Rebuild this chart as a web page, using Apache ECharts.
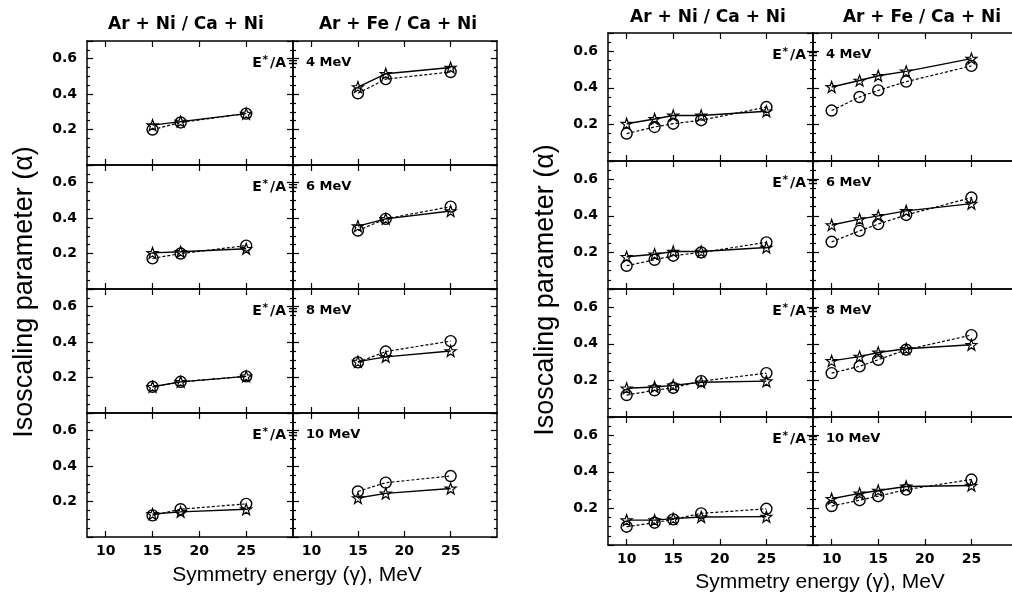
<!DOCTYPE html>
<html>
<head>
<meta charset="utf-8">
<script src="https://cdn.jsdelivr.net/npm/echarts@6/dist/echarts.min.js"></script>
<style>
  html, body { margin: 0; padding: 0; background: #fff; }
  #chart { width: 1012px; height: 595px; }
</style>
</head>
<body>
<div id="chart"></div>
<script>
// data
const systems = ['Ar + Ni / Ca + Ni', 'Ar + Fe / Ca + Ni'];
const excitation = ['4', '6', '8', '10'];
const xTicks = [10, 15, 20, 25];

// left figure: 3 symmetry energies
const energyLeft = [15, 18, 25];
const leftNiCircle = [[0.20, 0.24, 0.29], [0.173, 0.20, 0.245], [0.148, 0.176, 0.207], [0.122, 0.157, 0.187]];
const leftNiStar = [[0.225, 0.245, 0.29], [0.204, 0.21, 0.227], [0.148, 0.176, 0.207], [0.13, 0.142, 0.157]];
const leftFeCircle = [[0.405, 0.485, 0.525], [0.33, 0.396, 0.465], [0.286, 0.347, 0.406], [0.257, 0.307, 0.344]];
const leftFeStar = [[0.44, 0.515, 0.55], [0.355, 0.396, 0.44], [0.29, 0.317, 0.35], [0.22, 0.246, 0.274]];

// right figure: 5 symmetry energies
const energyRight = [10, 13, 15, 18, 25];
const rightNiCircle = [[0.15, 0.186, 0.204, 0.223, 0.295], [0.127, 0.16, 0.182, 0.2, 0.255], [0.12, 0.146, 0.16, 0.196, 0.24], [0.1, 0.122, 0.14, 0.173, 0.198]];
const rightNiStar = [[0.204, 0.23, 0.249, 0.249, 0.272], [0.176, 0.19, 0.205, 0.205, 0.227], [0.157, 0.164, 0.173, 0.19, 0.196], [0.136, 0.136, 0.144, 0.153, 0.155]];
const rightFeCircle = [[0.276, 0.35, 0.386, 0.434, 0.52], [0.258, 0.318, 0.355, 0.405, 0.5], [0.24, 0.277, 0.313, 0.368, 0.448], [0.213, 0.245, 0.267, 0.303, 0.358]];
const rightFeStar = [[0.405, 0.44, 0.466, 0.49, 0.56], [0.35, 0.382, 0.4, 0.427, 0.467], [0.307, 0.33, 0.353, 0.373, 0.395], [0.253, 0.282, 0.298, 0.32, 0.325]];

const STAR = 'path://M0,-10L2.35,-3.24L9.51,-3.09L3.8,1.24L5.88,8.09L0,4L-5.88,8.09L-3.8,1.24L-9.51,-3.09L-2.35,-3.24Z';
const FONT = 'Liberation Sans';
const BFONT = 'DejaVu Sans';

const figures = [
  {
    energy: energyLeft,
    circles: [leftNiCircle, leftFeCircle],
    stars: [leftNiStar, leftFeStar],
    colLeft: [87, 293], colWidth: [206, 204],
    rowTop: [41, 165, 289, 413], rowHeight: 124,
    titleY: 25, titleX: [186, 398],
    yNameX: 25, yNameY: 292,
    xNameX: 297, xNameY: 575
  },
  {
    energy: energyRight,
    circles: [rightNiCircle, rightFeCircle],
    stars: [rightNiStar, rightFeStar],
    colLeft: [608, 813], colWidth: [205, 205],
    rowTop: [33, 161, 289, 417], rowHeight: 128,
    titleY: 18, titleX: [708, 922],
    yNameX: 546, yNameY: 290,
    xNameX: 820, xNameY: 582
  }
];

const grid = [], xAxis = [], yAxis = [], series = [], graphic = [];
const axisLine = { show: true, onZero: false, lineStyle: { color: '#000', width: 1.5 } };
const tickStyle = { color: '#000', width: 1.2 };

figures.forEach(function (fig) {
  for (let r = 0; r < 4; r++) {
    for (let c = 0; c < 2; c++) {
      const g = grid.length;
      grid.push({
        left: fig.colLeft[c], top: fig.rowTop[r],
        width: fig.colWidth[c], height: fig.rowHeight,
        outerBoundsMode: 'none', containLabel: false
      });
      const bottomRow = r === 3;
      ['bottom', 'top'].forEach(function (pos) {
        xAxis.push({
          type: 'value', gridIndex: g, position: pos, min: 8, max: 30,
          axisLine: axisLine,
          axisTick: { show: true, inside: true, length: 6, customValues: xTicks, lineStyle: tickStyle },
          axisLabel: {
            show: pos === 'bottom' && bottomRow, customValues: xTicks, margin: 7,
            color: '#000', fontFamily: BFONT, fontWeight: 'bold', fontSize: 14
          },
          splitLine: { show: false }
        });
      });
      ['left', 'right'].forEach(function (pos) {
        yAxis.push({
          type: 'value', gridIndex: g, position: pos, min: 0, max: 0.7, interval: 0.2,
          axisLine: axisLine,
          axisTick: { show: true, inside: true, length: 6, lineStyle: tickStyle },
          minorTick: { show: true, splitNumber: 4, length: 3, lineStyle: tickStyle },
          axisLabel: {
            show: pos === 'left' && c === 0, margin: 10,
            color: '#000', fontFamily: BFONT, fontWeight: 'bold', fontSize: 14,
            formatter: function (v) { return (v > 0.05 && v < 0.65) ? v.toFixed(1) : ''; }
          },
          splitLine: { show: false }
        });
      });
      const xi = g * 2, yi = g * 2;
      series.push({
        type: 'line', xAxisIndex: xi, yAxisIndex: yi,
        data: fig.energy.map(function (e, i) { return [e, fig.circles[c][r][i]]; }),
        symbol: 'circle', symbolSize: 11,
        itemStyle: { color: 'rgba(0,0,0,0)', borderColor: '#000', borderWidth: 1.4 },
        lineStyle: { color: '#000', width: 1.2, type: [3, 2] },
        silent: true, z: 2
      });
      series.push({
        type: 'line', xAxisIndex: xi, yAxisIndex: yi,
        data: fig.energy.map(function (e, i) { return [e, fig.stars[c][r][i]]; }),
        symbol: STAR, symbolSize: 11,
        itemStyle: { color: 'rgba(0,0,0,0)', borderColor: '#000', borderWidth: 1.2 },
        lineStyle: { color: '#000', width: 1.4 },
        silent: true, z: 3
      });
    }
    // E*/A label straddling the column divider
    const div = fig.colLeft[1];
    const ly = fig.rowTop[r] + 22;
    const labStyle = { fill: '#000', font: 'bold 13px "' + BFONT + '"', textVerticalAlign: 'middle' };
    graphic.push({
      type: 'text', x: div - 7, y: ly, z: 10,
      style: Object.assign({}, labStyle, {
        text: '{e|E}{s|*}{e|/A}', textAlign: 'right',
        rich: {
          e: { fontFamily: BFONT, fontWeight: 'bold', fontSize: 14, fill: '#000' },
          s: { fontFamily: BFONT, fontWeight: 'bold', fontSize: 10, fill: '#000', verticalAlign: 'top', padding: [0, 2, 6, 1] }
        }
      })
    });
    graphic.push({ type: 'text', x: div, y: ly, z: 10, style: Object.assign({}, labStyle, { text: '=', textAlign: 'center' }) });
    graphic.push({ type: 'text', x: div + 13, y: ly, z: 10, style: Object.assign({}, labStyle, { text: excitation[r] + ' MeV', textAlign: 'left' }) });
  }
  systems.forEach(function (s, c) {
    graphic.push({
      type: 'text', x: fig.titleX[c], y: fig.titleY,
      style: { text: s, fill: '#000', font: 'bold 17px "' + BFONT + '"', textAlign: 'center', textVerticalAlign: 'middle' }
    });
  });
  graphic.push({
    type: 'text', x: fig.yNameX, y: fig.yNameY, rotation: Math.PI / 2,
    style: { text: 'Isoscaling parameter (α)', fill: '#000', font: '27px "' + FONT + '"', textAlign: 'center', textVerticalAlign: 'middle' }
  });
  graphic.push({
    type: 'text', x: fig.xNameX, y: fig.xNameY,
    style: { text: 'Symmetry energy (γ), MeV', fill: '#000', font: '21px "' + FONT + '"', textAlign: 'center', textVerticalAlign: 'middle' }
  });
});

const chart = echarts.init(document.getElementById('chart'));
chart.setOption({
  animation: false,
  backgroundColor: '#fff',
  grid: grid,
  xAxis: xAxis,
  yAxis: yAxis,
  series: series,
  graphic: graphic
});
</script>
</body>
</html>
